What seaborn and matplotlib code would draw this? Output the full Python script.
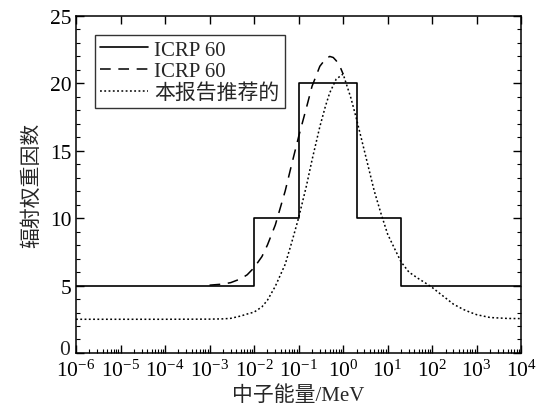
import numpy as np
import pandas as pd
import seaborn as sns
import matplotlib
matplotlib.use("Agg")
import matplotlib.pyplot as plt
from matplotlib.ticker import LogLocator, MultipleLocator, NullFormatter

# ICRP 60 step values (energy in MeV, weight factor)
step_energy = [1e-6, 1e-2, 1e-1, 2.0, 20.0, 1e4]
step_weight = [5, 10, 20, 10, 5, 5]

# ICRP 60 continuous curve
cont_energy = [1e-3, 2e-3, 3e-3, 5e-3, 7e-3, 1e-2, 1.5e-2, 2e-2, 3e-2, 5e-2, 7e-2,
               0.1, 0.15, 0.2, 0.3, 0.4, 0.5, 0.6, 0.7, 0.85, 1.0]
cont_weight = [5.03, 5.11, 5.22, 5.50, 5.80, 6.33, 7.15, 8.02, 9.50, 12.02, 14.00,
               16.04, 18.20, 19.78, 21.27, 21.80, 22.00, 21.92, 21.68, 21.25, 20.69]

# recommended curve of this report
rec_energy = [1e-6, 1e-5, 1e-4, 1e-3, 2e-3, 3e-3, 5e-3, 7e-3, 1e-2, 1.5e-2, 2e-2, 3e-2,
              5e-2, 7e-2, 0.1, 0.15, 0.2, 0.3, 0.4, 0.5, 0.7, 1.0, 1.5, 2.0, 3.0,
              5.0, 7.0, 10.0, 15.0, 20.0, 30.0, 50.0, 70.0, 100.0, 150.0, 200.0,
              300.0, 500.0, 700.0, 1000.0, 2000.0, 5000.0, 1e4]
rec_weight = [2.50, 2.50, 2.50, 2.51, 2.53, 2.57, 2.74, 2.89, 3.03, 3.42, 3.92, 4.95,
              6.58, 8.20, 10.02, 12.40, 14.31, 16.79, 18.30, 19.30, 20.32, 20.69, 18.90, 17.35, 15.00,
              12.02, 10.40, 8.81, 7.60, 6.76, 6.00, 5.50, 5.20, 4.86, 4.40, 4.08,
              3.62, 3.23, 3.03, 2.84, 2.63, 2.56, 2.55]

y_ticks = [0, 5, 10, 15, 20, 25]

sns.set_style("ticks")
plt.rcParams["font.family"] = ["Liberation Serif", "Noto Sans CJK SC", "DejaVu Sans"]
plt.rcParams["mathtext.fontset"] = "stix"

fig = plt.figure(figsize=(5.39, 4.14), dpi=100)
ax = fig.add_axes([0.141, 0.145, 0.826, 0.814])

df_step = pd.DataFrame({"E": step_energy, "w": step_weight})
df_cont = pd.DataFrame({"E": cont_energy, "w": cont_weight})
df_rec = pd.DataFrame({"E": rec_energy, "w": rec_weight})

sns.lineplot(data=df_step, x="E", y="w", ax=ax, color="black", lw=1.2,
             drawstyle="steps-post", label="ICRP 60")
sns.lineplot(data=df_cont, x="E", y="w", ax=ax, color="black", lw=1.1,
             linestyle=(0, (7, 5)), label="ICRP 60")
sns.lineplot(data=df_rec, x="E", y="w", ax=ax, color="black", lw=1.1,
             linestyle=(0, (1.2, 1.6)), label="本报告推荐的")

ax.set_xscale("log")
ax.set_xlim(1e-6, 1e4)
ax.set_ylim(0, 25)
ax.xaxis.set_major_locator(LogLocator(base=10, numticks=20))
ax.xaxis.set_minor_locator(LogLocator(base=10, subs=np.arange(2, 10), numticks=100))
ax.xaxis.set_minor_formatter(NullFormatter())
# "0" is drawn separately, sitting a bit higher like in the original
ax.set_yticks(y_ticks, labels=[""] + [str(v) for v in y_ticks[1:]])
ax.yaxis.set_minor_locator(MultipleLocator(1))

ax.tick_params(axis="both", which="both", direction="in", colors="black", labelsize=15.5)
ax.tick_params(axis="x", which="major", top=True, length=6, width=1, pad=5)
ax.tick_params(axis="x", which="minor", top=False, length=3, width=0.8)
ax.tick_params(axis="y", which="major", right=True, length=6, width=1, pad=3)
ax.tick_params(axis="y", which="minor", right=True, length=3, width=0.8)
for s in ax.spines.values():
    s.set_visible(True)
    s.set_linewidth(1.1)
    s.set_color("black")

ax.annotate(str(y_ticks[0]), xy=(0, y_ticks[0]), xycoords=ax.get_yaxis_transform(),
            xytext=(-4, -1), textcoords="offset points", ha="right", va="baseline",
            fontsize=15.5)

ax.set_xlabel("中子能量/MeV", fontsize=15, labelpad=3)
ax.set_ylabel("辐射权重因数", fontsize=15, labelpad=6)

leg = ax.legend(loc="upper left", fontsize=15, frameon=True, fancybox=False,
                edgecolor="black", handlelength=2.3, handletextpad=0.3,
                borderpad=0.25, labelspacing=0.1, borderaxespad=0.9)
leg.get_frame().set_linewidth(1.0)

fig.savefig("out.png", dpi=100)
